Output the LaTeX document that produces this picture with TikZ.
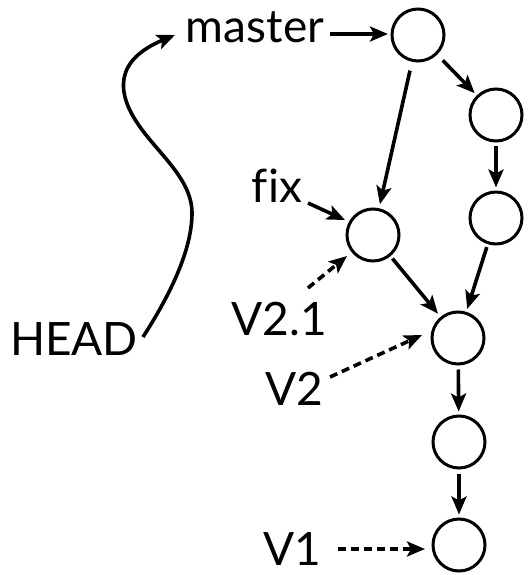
\documentclass[tikz,border=0pt]{standalone}
\usepackage{fontspec}
\setmainfont{Lato}
\usetikzlibrary{arrows.meta,calc}
\begin{document}
\begin{tikzpicture}[x=1pt,y=-1pt,
  commit/.style={circle,draw,line width=3pt,minimum size=52pt,inner sep=0pt},
  lbl/.style={inner sep=0pt,anchor=base,font=\fontsize{46}{50}\selectfont},
  arr/.style={line width=3.6pt,-{Stealth[length=18pt,width=15pt,inset=4pt]}},
  tagarr/.style={arr,dash pattern=on 8pt off 5pt}]
\useasboundingbox (0,0) rectangle (532,575);
% commits
\node[commit] (c1) at (418,35) {};
\node[commit] (c2) at (496,115) {};
\node[commit] (c3) at (496,218) {};
\node[commit] (c4) at (373,235) {};
\node[commit] (c5) at (458,338) {};
\node[commit] (c6) at (459,442) {};
\node[commit] (c7) at (459,545) {};
% labels
\node[lbl] (master) at (255,43) {master};
\node[lbl] (fix) at (277,202) {f\kern0pt ix};
\node[lbl] (v21) at (279,335) {V2.1};
\node[lbl] (v2) at (294,405) {V2};
\node[lbl] (v1) at (292,565) {V1};
\node[lbl] (head) at (74,355) {HEAD};
% history edges
\draw[arr,shorten <=8pt,shorten >=3pt] (c1) -- (c2);
\draw[arr,shorten <=9pt,shorten >=4pt] (c1) -- (c4);
\draw[arr,shorten <=3pt,shorten >=3pt] (c2) -- (c3);
\draw[arr,shorten <=3pt,shorten >=4pt] (c4) -- (c5);
\draw[arr,shorten <=3pt,shorten >=3pt] (c3) -- (c5);
\draw[arr,shorten <=4pt,shorten >=3pt] (c5) -- (c6);
\draw[arr,shorten <=4pt,shorten >=3pt] (c6) -- (c7);
% branch refs
\draw[arr] ($(master.base)+(75,-9)$) -- ($(c1)+(-30,-1)$);
\draw[arr] ($(fix.base)+(31,1)$) -- ($(c4)+(-28,-15)$);
% tags
\draw[tagarr] ($(v21.base)+(29,-47)$) -- ($(c4)+(-26,21)$);
\draw[tagarr] ($(v2.base)+(36,-28)$) -- ($(c5)+(-36,-3)$);
\draw[tagarr] ($(v1.base)+(46,-16)$) -- ($(c7)+(-34,4)$);
% HEAD
\draw[arr] ($(head.base)+(69,-18)$) .. controls (170,295) and (192,250) .. (192,213)
  .. controls (192,180) and (160,155) .. (140,127)
  .. controls (115,92) and (115,60) .. ($(master.base)+(-80,-8)$);
\end{tikzpicture}
\end{document}
